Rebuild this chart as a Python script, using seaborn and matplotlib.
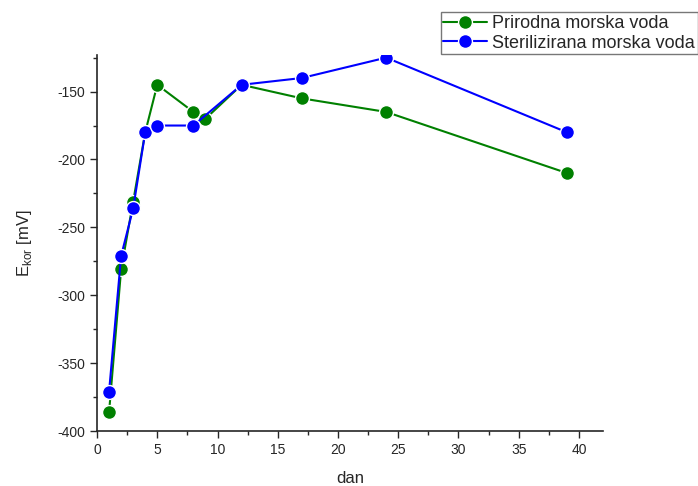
import matplotlib
matplotlib.use('Agg')
import matplotlib.pyplot as plt
from matplotlib.ticker import MultipleLocator
import seaborn as sns
import pandas as pd

# data
dani_prirodna = [1, 2, 3, 4, 5, 8, 9, 12, 17, 24, 39]
ekor_prirodna = [-386, -281, -231, -180, -145, -165, -170, -145, -155, -165, -210]
dani_steril = [1, 2, 3, 4, 5, 8, 12, 17, 24, 39]
ekor_steril = [-371, -271, -236, -180, -175, -175, -145, -140, -125, -180]
serije = ["Prirodna morska voda", "Sterilizirana morska voda"]
boje = ["green", "blue"]

sns.set_style("ticks")
plt.rcParams['font.family'] = ['Liberation Sans', 'DejaVu Sans']
plt.rcParams['mathtext.fontset'] = 'custom'
plt.rcParams['mathtext.rm'] = 'Liberation Sans'
plt.rcParams['axes.unicode_minus'] = False

df = pd.concat([
    pd.DataFrame({'dan': dani_prirodna, 'ekor': ekor_prirodna, 'serija': serije[0]}),
    pd.DataFrame({'dan': dani_steril, 'ekor': ekor_steril, 'serija': serije[1]}),
])

fig = plt.figure(figsize=(6.98, 4.86), dpi=100)
ax = fig.add_axes([0.139, 0.113, 0.725, 0.774])

sns.lineplot(
    data=df, x='dan', y='ekor', hue='serija', palette=boje,
    marker='o', markersize=10, markeredgecolor='white', markeredgewidth=1,
    linewidth=1.5, sort=False, ax=ax
)

ax.set_xlim(0, 42)
ax.set_ylim(-400, -123)
ax.xaxis.set_major_locator(MultipleLocator(5))
ax.xaxis.set_minor_locator(MultipleLocator(2.5))
ax.yaxis.set_major_locator(MultipleLocator(50))
ax.yaxis.set_minor_locator(MultipleLocator(25))
ax.tick_params(which='major', length=5, width=1, labelsize=10)
ax.tick_params(which='minor', length=3, width=1)
sns.despine(ax=ax)
for s in ['left', 'bottom']:
    ax.spines[s].set_linewidth(1.2)

ax.set_xlabel('dan', fontsize=12, labelpad=10)
ax.set_ylabel(r'E$_{\mathregular{kor}}$ [mV]', fontsize=12, labelpad=17)

leg = ax.legend(loc='upper right', bbox_to_anchor=(0.9995, 0.975), bbox_transform=fig.transFigure,
                frameon=True, fancybox=False, edgecolor='#555555', fontsize=13,
                borderpad=0.15, handlelength=2.4, handletextpad=0.3, labelspacing=0.15,
                borderaxespad=0)
leg.get_frame().set_linewidth(1)

fig.savefig('out.png', dpi=100)
plt.close()
